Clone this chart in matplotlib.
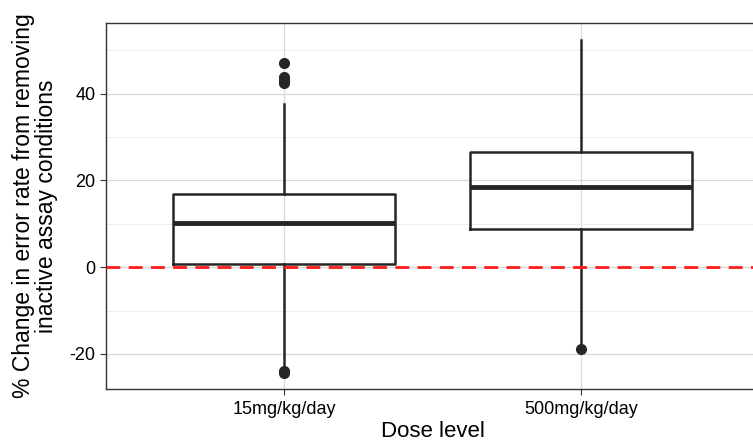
import matplotlib
matplotlib.use("Agg")
import matplotlib.pyplot as plt

plt.rcParams['font.family'] = ['Liberation Sans', 'DejaVu Sans']
plt.rcParams['axes.unicode_minus'] = False

categories = ["15mg/kg/day", "500mg/kg/day"]
q1 = [0.7, 8.8]
median = [10.1, 18.5]
q3 = [16.8, 26.5]
whislo = [-23.2, -17.4]
whishi = [37.6, 52.4]
fliers = [[47.1, 43.8, 43.1, 42.4, -24.0, -24.5], [-18.9]]

stats = []
for i, c in enumerate(categories):
    stats.append(dict(label=c, q1=q1[i], med=median[i], q3=q3[i],
                      whislo=whislo[i], whishi=whishi[i], fliers=fliers[i]))

fig = plt.figure(figsize=(7.53, 4.46), dpi=100)
# panel is cropped on the right in the reference
ax = fig.add_axes([106/753, (446-389)/446, (759-106)/753, (389-23)/446])

col = '#262626'
ax.bxp(stats, positions=[1, 2], widths=0.75, showfliers=True,
       boxprops=dict(color=col, linewidth=1.8),
       medianprops=dict(color=col, linewidth=3.5),
       whiskerprops=dict(color=col, linewidth=1.8),
       capprops=dict(linewidth=0),
       flierprops=dict(marker='o', markerfacecolor=col, markeredgecolor=col, markersize=7),
       zorder=3)

ax.axhline(0, color='#ff1a1a', linestyle=(0, (5, 3)), linewidth=2, zorder=4)

ax.set_xlim(0.4, 2.6)
ax.set_ylim(-28.1, 56.3)
ax.set_yticks([-20, 0, 20, 40])
ax.set_yticks([-10, 10, 30, 50], minor=True)
ax.set_xticks([1, 2])
ax.set_xticklabels(categories)
ax.grid(True, which='major', color='#d9d9d9', linewidth=0.9, zorder=0)
ax.grid(True, which='minor', axis='y', color='#ebebeb', linewidth=0.6, zorder=0)
ax.set_axisbelow(True)
ax.tick_params(axis='both', which='major', labelsize=13, color='#333333', length=4, width=0.8, labelcolor='black')
ax.tick_params(axis='x', which='major', pad=5)
ax.tick_params(axis='y', which='minor', length=0)
for s in ax.spines.values():
    s.set_color('#333333')
    s.set_linewidth(1.0)

ax.set_xlabel("Dose level", fontsize=16, labelpad=2)
ax.set_ylabel("% Change in error rate from removing\ninactive assay conditions", fontsize=16.5,
              linespacing=1.0, ha='center', va='center')
ax.yaxis.set_label_coords(-0.109, 0.5)

fig.savefig("out.png", dpi=100)
